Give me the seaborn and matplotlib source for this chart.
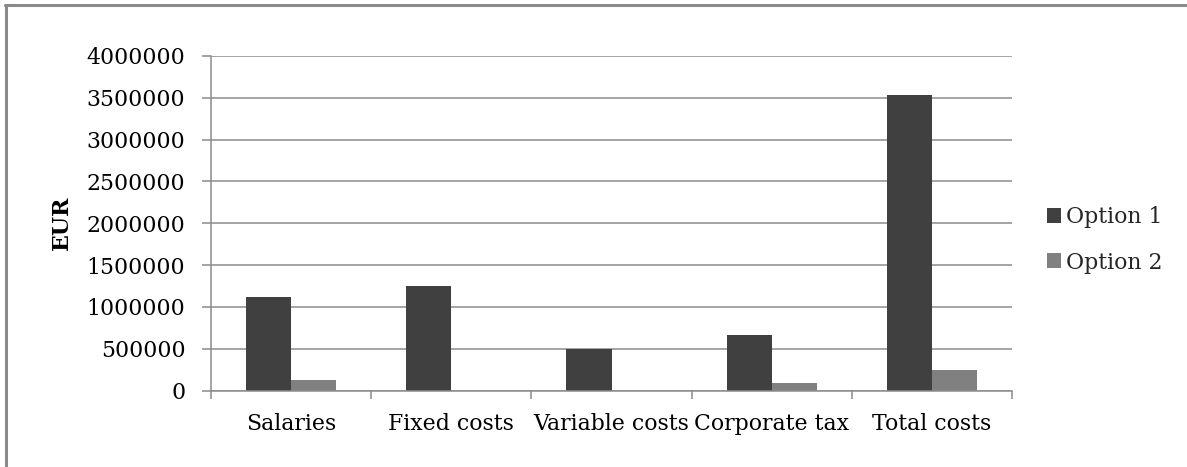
import matplotlib
matplotlib.use("Agg")
import matplotlib.pyplot as plt
import matplotlib.lines as mlines
import seaborn as sns
import pandas as pd
import numpy as np

categories = ["Salaries", "Fixed costs", "Variable costs", "Corporate tax", "Total costs"]
option1 = [1120000, 1250000, 500000, 660000, 3530000]
option2 = [125000, 0, 0, 90000, 245000]
series_names = ["Option 1", "Option 2"]
y_ticks = [0, 500000, 1000000, 1500000, 2000000, 2500000, 3000000, 3500000, 4000000]

df = pd.DataFrame({
    "category": categories * 2,
    "value": option1 + option2,
    "series": [series_names[0]] * len(categories) + [series_names[1]] * len(categories),
})

sns.set_theme(style="white")
plt.rcParams["font.family"] = ["DejaVu Serif"]

W, H = 1187, 467
fig = plt.figure(figsize=(W / 100, H / 100), dpi=100)
ax = fig.add_axes([211 / W, 1 - 390.5 / H, (1012 - 211) / W, (390.5 - 56) / H])

palette = {"Option 1": "#404040", "Option 2": "#808080"}
sns.barplot(data=df, x="category", y="value", hue="series", order=categories,
            hue_order=series_names, palette=palette, width=0.5625,
            saturation=1, ax=ax, legend=True, edgecolor="none", linewidth=0)

grid_c = "#8c8c8c"
fs = 15.8
ax.set_ylim(0, 4000000)
ax.set_xlim(-0.5, len(categories) - 0.5)
ax.set_yticks(y_ticks)
ax.set_yticklabels([str(v) for v in y_ticks])
ax.yaxis.grid(True, color=grid_c, linewidth=1.1)
ax.set_axisbelow(True)

# x ticks at category boundaries, labels at centers
ax.set_xticks(np.arange(-0.5, len(categories), 1.0))
ax.set_xticklabels([""] * (len(categories) + 1))
ax.set_xticks(np.arange(len(categories)), minor=True)
ax.set_xticklabels(categories, minor=True)
ax.tick_params(axis="x", which="major", direction="out", length=6, width=1.1, color=grid_c, bottom=True)
ax.tick_params(axis="x", which="minor", length=0, pad=16, labelsize=fs, labelcolor="black")
ax.tick_params(axis="y", direction="out", length=6.5, width=1.1, color=grid_c, left=True,
               pad=12, labelsize=fs, labelcolor="black")

for s in ["top", "right"]:
    ax.spines[s].set_visible(False)
for s in ["left", "bottom"]:
    ax.spines[s].set_color(grid_c)
    ax.spines[s].set_linewidth(1.1)

ax.set_xlabel("")
ax.set_ylabel("EUR", fontsize=fs, fontweight="bold", labelpad=10, color="black")

# legend
leg = ax.get_legend()
handles = leg.legend_handles
leg.remove()
fig.legend(handles, series_names, loc="center left",
           bbox_to_anchor=(1027 / W, 1 - 240 / H), frameon=False,
           fontsize=fs, handlelength=0.65, handleheight=0.65,
           handletextpad=0.25, labelspacing=1.05)

# figure border (top and left)
fig.add_artist(mlines.Line2D([5 / W, 1], [1 - 5 / H, 1 - 5 / H], color="#8a8a8a",
                             linewidth=2.2, transform=fig.transFigure))
fig.add_artist(mlines.Line2D([6 / W, 6 / W], [0, 1 - 5 / H], color="#8a8a8a",
                             linewidth=2.2, transform=fig.transFigure))

fig.savefig("out.png", dpi=100)
